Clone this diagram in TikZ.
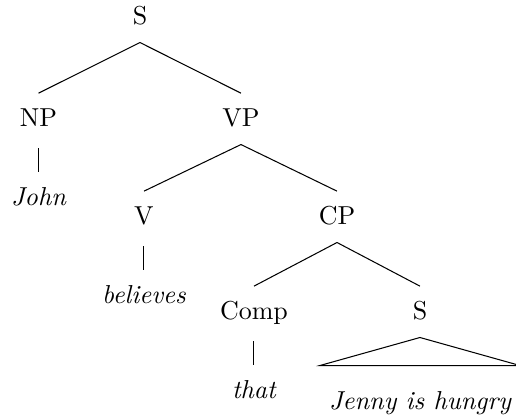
\documentclass[tikz,border=0pt]{standalone}
\usepackage{tikz}
\usetikzlibrary{positioning}
\begin{document}
\begin{tikzpicture}
    \tikzstyle{every node}=[text height=2.2ex,text depth=.75ex,anchor=base]
    \tikzstyle{leaf}=[font=\itshape,node distance=10.5pt]

    \useasboundingbox (-1.895,-5.279) rectangle (5.090,0.338);

    \node (s) at (0,0) {S} ;
    \node (np) at (-1.374,-1.381) {NP} ;
    \node (vp) at (1.367,-1.381) {VP} ;
    \node (v) at (0.054,-2.707) {V} ;
    \node (cp) at (2.667,-2.707) {CP} ;
    \node (comp) at (1.543,-3.993) {Comp} ;
    \node (s2) at (3.790,-3.993) {S} ;

    \node[leaf,below=of np] (john) {John} ;
    \node[leaf,below=of v] (believes) {believes} ;
    \node[leaf,below=of comp] (that) {that} ;
    \node[leaf,below=14.8pt of s2] (jenny) {Jenny is hungry} ;

    \draw (s.south) -- (np.north) ;
    \draw (s.south) -- (vp.north) ;
    \draw (vp.south) -- (v.north) ;
    \draw (vp.south) -- (cp.north) ;
    \draw (cp.south) -- (comp.north) ;
    \draw (cp.south) -- (s2.north) ;

    \draw[shorten <=1.5pt] (np) -- (john) ;
    \draw[shorten <=1.5pt] (v) -- (believes) ;
    \draw[shorten <=1.5pt] (comp) -- (that) ;
    \draw (s2.south) -- ([yshift=4pt]jenny.north west) -- ([yshift=4pt]jenny.north east) -- cycle ;

\end{tikzpicture}
\end{document}
